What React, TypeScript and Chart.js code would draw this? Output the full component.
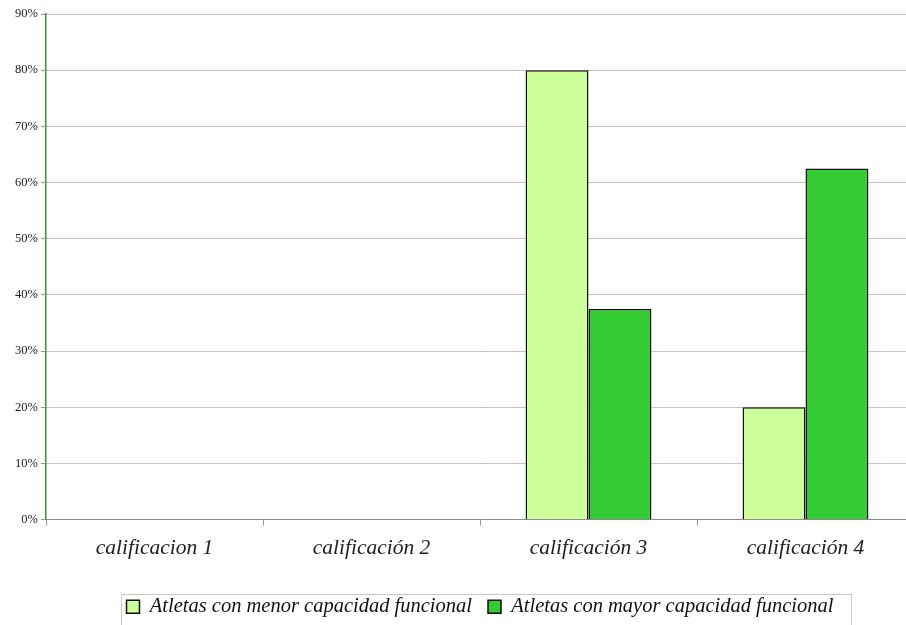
import React, { useEffect, useRef } from "react";
import { Chart, registerables } from "chart.js";

Chart.register(...registerables);

const categories = ["calificacion 1", "calificación 2", "calificación 3", "calificación 4"];
const seriesNames = [
  "Atletas con menor capacidad funcional",
  "Atletas con mayor capacidad funcional",
];
const menorValues = [0, 0, 80, 20];
const mayorValues = [0, 0, 37.5, 62.5];
const yTickMax = 90;
const yTickStep = 10;

const SERIF = "'Liberation Serif', 'Times New Roman', serif";

export default function App() {
  const ref = useRef<HTMLCanvasElement | null>(null);

  useEffect(() => {
    if (!ref.current) return;
    const legendFrame = {
      id: "legendFrame",
      afterDraw(chart: any) {
        const lg = chart.legend;
        if (!lg || !lg.legendHitBoxes || !lg.legendHitBoxes.length) return;
        const boxes = lg.legendHitBoxes;
        const first = boxes[0];
        const last = boxes[boxes.length - 1];
        const ctx = chart.ctx;
        ctx.save();
        ctx.strokeStyle = "#c8c8c8";
        ctx.lineWidth = 1;
        const x0 = Math.round(first.left - 6);
        const x1 = Math.round(last.left + last.width + 18);
        const y0 = Math.round(first.top - 3);
        ctx.strokeRect(x0 + 0.5, y0 + 0.5, x1 - x0, 80);
        ctx.restore();
      },
    };

    const chart = new Chart(ref.current, {
      type: "bar",
      data: {
        labels: categories,
        datasets: [
          {
            label: seriesNames[0],
            data: menorValues,
            backgroundColor: "#CCFF99",
            borderColor: "#111",
            borderWidth: 1.5,
            categoryPercentage: 0.58,
            barPercentage: 1,
          },
          {
            label: seriesNames[1],
            data: mayorValues,
            backgroundColor: "#33CC33",
            borderColor: "#111",
            borderWidth: 1.5,
            categoryPercentage: 0.58,
            barPercentage: 1,
          },
        ],
      },
      options: {
        animation: false,
        responsive: false,
        layout: { padding: { top: 14, right: 16, left: 0, bottom: -2 } },
        plugins: {
          tooltip: { enabled: false },
          legend: {
            position: "bottom",
            fullSize: false,
            labels: {
              font: { family: SERIF, size: 20.5, style: "italic" },
              color: "#111",
              boxWidth: 13,
              boxHeight: 13,
              padding: 16,
            },
          },
        },
        scales: {
          x: {
            afterFit(scale: any) {
              scale.height += 9;
            },
            grid: {
              offset: true,
              drawOnChartArea: false,
              drawTicks: true,
              tickLength: 6,
              color: "#999",
            },
            border: { color: "#8a8a8a", width: 1 },
            ticks: {
              font: { family: SERIF, size: 21.5, style: "italic" },
              color: "#222",
              padding: 10,
              maxRotation: 0,
            },
          },
          y: {
            min: 0,
            max: yTickMax,
            afterFit(scale: any) {
              scale.width = 46;
            },
            grid: {
              color: "#c4c4c4",
              lineWidth: 1,
              tickLength: 5,
              tickColor: "#999",
            },
            border: { color: "#2e9a2e", width: 1.5 },
            ticks: {
              stepSize: yTickStep,
              font: { family: SERIF, size: 12.5 },
              color: "#222",
              padding: 3,
              callback: (v: any) => v + "%",
            },
          },
        },
      },
      plugins: [legendFrame],
    });
    return () => chart.destroy();
  }, []);

  return (
    <div
      style={{
        position: "fixed",
        left: 0,
        top: 0,
        width: 906,
        height: 625,
        overflow: "hidden",
        background: "#fff",
      }}
    >
      <canvas ref={ref} width={930} height={625} style={{ display: "block" }} />
    </div>
  );
}
